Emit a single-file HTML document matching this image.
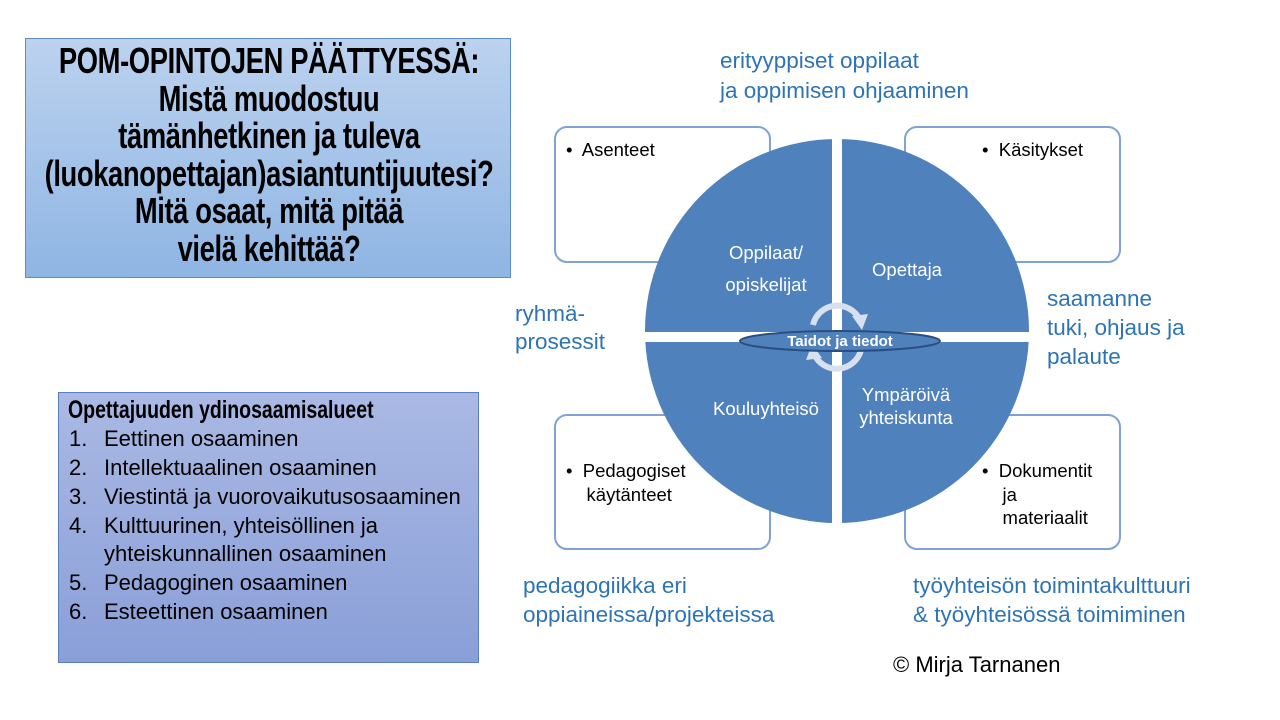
<!DOCTYPE html>
<html><head><meta charset="utf-8"><style>
body{margin:0;width:1280px;height:720px;background:#fff;position:relative;overflow:hidden;font-family:"Liberation Sans",sans-serif}
.a{position:absolute}
.lbl{position:absolute;color:#2e74b5;font-size:22.5px;line-height:30px;white-space:nowrap}
.title{left:25px;top:38px;width:486px;height:240px;box-sizing:border-box;border:1px solid #5b8cc8;background:linear-gradient(#bcd2ef,#8fb5e3);color:#000;overflow:visible}
.tt{position:absolute;left:-157px;width:800px;top:3px;text-align:center;font-weight:bold;font-size:36px;line-height:37.5px;letter-spacing:-0.5px;transform:scaleX(0.76);transform-origin:center top;white-space:nowrap}
.list{left:58px;top:392px;width:421px;height:271px;box-sizing:border-box;border:1px solid #5b7ec0;background:linear-gradient(#aab9e4,#8a9fd8);color:#000}
.it{position:absolute;font-size:22px;white-space:nowrap}
.box{position:absolute;font-size:18.5px;color:#000;white-space:nowrap}
</style></head><body>
<div class="a title"><div class="tt">POM-OPINTOJEN PÄÄTTYESSÄ:<br>Mistä muodostuu<br>tämänhetkinen ja tuleva<br>(luokanopettajan)asiantuntijuutesi?<br>Mitä osaat, mitä pitää<br>vielä kehittää?</div></div>
<div class="a list"></div>
<div class="a" style="left:68px;top:396px;font-weight:bold;font-size:25px;transform:scaleX(0.78);transform-origin:left top;white-space:nowrap">Opettajuuden ydinosaamisalueet</div>
<div class="it" style="left:69px;top:426px">1.</div><div class="it" style="left:104px;top:426px">Eettinen osaaminen</div>
<div class="it" style="left:69px;top:455px">2.</div><div class="it" style="left:104px;top:455px">Intellektuaalinen osaaminen</div>
<div class="it" style="left:69px;top:484px">3.</div><div class="it" style="left:104px;top:484px">Viestintä ja vuorovaikutusosaaminen</div>
<div class="it" style="left:69px;top:513px">4.</div><div class="it" style="left:104px;top:513px">Kulttuurinen, yhteisöllinen ja</div>
<div class="it" style="left:104px;top:541px">yhteiskunnallinen osaaminen</div>
<div class="it" style="left:69px;top:570px">5.</div><div class="it" style="left:104px;top:570px">Pedagoginen osaaminen</div>
<div class="it" style="left:69px;top:599px">6.</div><div class="it" style="left:104px;top:599px">Esteettinen osaaminen</div>
<svg class="a" style="left:0;top:0" width="1280" height="720">
<g fill="#fff" stroke="#7fa3d6" stroke-width="2">
<rect x="555" y="127" width="215" height="135" rx="12"/>
<rect x="905" y="127" width="215" height="135" rx="12"/>
<rect x="555" y="415" width="215" height="134" rx="12"/>
<rect x="905" y="415" width="215" height="134" rx="12"/>
</g>
<circle cx="837" cy="331" r="192" fill="#4f81bd"/>
<rect x="832" y="130" width="10" height="400" fill="#fff"/>
<rect x="640" y="332" width="400" height="10" fill="#fff"/>
<g fill="none" stroke="#d7e0ee" stroke-width="6">
<path d="M813 325 A25 25 0 0 1 860 320"/>
<path d="M861 350 A25 25 0 0 1 814 354"/>
</g>
<polygon points="852,316 868,314 862,330" fill="#d7e0ee"/>
<polygon points="822,358 806,360 812,344" fill="#d7e0ee"/>
<ellipse cx="840" cy="341" rx="100" ry="10" fill="#4f81bd" stroke="#2c4e7e" stroke-width="2"/>
<text x="840" y="346" text-anchor="middle" fill="#fff" font-size="15" font-weight="bold" font-family="Liberation Sans">Taidot ja tiedot</text>
<g fill="#fff" font-size="18.5" font-family="Liberation Sans" text-anchor="middle">
<text x="766" y="259">Oppilaat/</text><text x="766" y="291">opiskelijat</text>
<text x="907" y="276">Opettaja</text>
<text x="766" y="415">Kouluyhteisö</text>
<text x="906" y="401">Ympäröivä</text><text x="906" y="424">yhteiskunta</text>
</g>
</svg>
<div class="box" style="left:566px;top:139px">•&nbsp; Asenteet</div>
<div class="box" style="left:982px;top:139px">•&nbsp; Käsitykset</div>
<div class="box" style="left:566px;top:459px;line-height:24px">•&nbsp; Pedagogiset<br>&nbsp;&nbsp;&nbsp; käytänteet</div>
<div class="box" style="left:982px;top:459px;line-height:23.5px">•&nbsp; Dokumentit<br>&nbsp;&nbsp;&nbsp; ja<br>&nbsp;&nbsp;&nbsp; materiaalit</div>
<div class="lbl" style="left:720px;top:46px">erityyppiset oppilaat<br>ja oppimisen ohjaaminen</div>
<div class="lbl" style="left:515px;top:300px;line-height:28px">ryhmä-<br>prosessit</div>
<div class="lbl" style="left:1047px;top:284px;line-height:29px">saamanne<br>tuki, ohjaus ja<br>palaute</div>
<div class="lbl" style="left:523px;top:571px;line-height:29px">pedagogiikka eri<br>oppiaineissa/projekteissa</div>
<div class="lbl" style="left:913px;top:571px;line-height:29px">työyhteisön toimintakulttuuri<br>&amp; työyhteisössä toimiminen</div>
<div class="a" style="left:893px;top:652px;font-size:22px;color:#000">© Mirja Tarnanen</div>
</body></html>
